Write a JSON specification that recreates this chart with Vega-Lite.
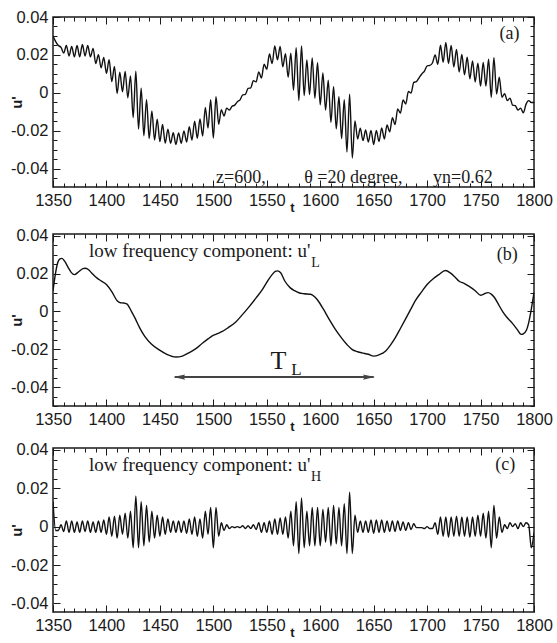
{
  "$schema": "https://vega.github.io/schema/vega-lite/v6.json",
  "padding": {"left": 8, "top": 8, "right": 4, "bottom": 5},
  "config": {
    "view": {"stroke": "#1a1a1a", "strokeWidth": 1.5},
    "axis": {"grid": false, "domain": false, "tickColor": "#1a1a1a", "tickWidth": 1, "labelFont": "Liberation Sans", "labelFontSize": 16.5, "labelColor": "#1a1a1a", "labelFlush": false, "labelOverlap": false, "labelBound": false, "titleFont": "Liberation Sans", "titleFontWeight": "bold", "titleColor": "#1a1a1a"},
    "text": {"font": "Liberation Serif", "fontSize": 18, "color": "#1a1a1a"}
  },
  "datasets": {
    "one": [{}],
    "a": [{"t":1350,"u":0.030},{"t":1352.5,"u":0.027},{"t":1355,"u":0.025},{"t":1357.5,"u":0.024},{"t":1360,"u":0.021},{"t":1362.5,"u":0.025},{"t":1365,"u":0.0195},{"t":1367.5,"u":0.0245},{"t":1370,"u":0.019},{"t":1372.5,"u":0.025},{"t":1375,"u":0.019},{"t":1377.5,"u":0.0255},{"t":1380,"u":0.0195},{"t":1382.5,"u":0.025},{"t":1385,"u":0.019},{"t":1387.5,"u":0.0235},{"t":1390,"u":0.0155},{"t":1392.5,"u":0.0202},{"t":1395,"u":0.0132},{"t":1397.5,"u":0.0187},{"t":1400,"u":0.0103},{"t":1402.5,"u":0.0175},{"t":1405,"u":0.006},{"t":1407.5,"u":0.014},{"t":1410,"u":-0.0003},{"t":1412.5,"u":0.011},{"t":1415,"u":0.0006},{"t":1417.5,"u":0.0113},{"t":1420,"u":-0.0025},{"t":1422.5,"u":0.009},{"t":1425,"u":-0.013},{"t":1427.5,"u":0.0115},{"t":1430,"u":-0.019},{"t":1432.5,"u":0.0025},{"t":1435,"u":-0.0225},{"t":1437.5,"u":-0.0035},{"t":1440,"u":-0.024},{"t":1442.5,"u":-0.0095},{"t":1445,"u":-0.0248},{"t":1447.5,"u":-0.0138},{"t":1450,"u":-0.0256},{"t":1452.5,"u":-0.0166},{"t":1455,"u":-0.0264},{"t":1457.5,"u":-0.0191},{"t":1460,"u":-0.0265},{"t":1462.5,"u":-0.0209},{"t":1465,"u":-0.0271},{"t":1467.5,"u":-0.021},{"t":1470,"u":-0.0265},{"t":1472.5,"u":-0.02},{"t":1475,"u":-0.0258},{"t":1477.5,"u":-0.0178},{"t":1480,"u":-0.0248},{"t":1482.5,"u":-0.0148},{"t":1485,"u":-0.0238},{"t":1487.5,"u":-0.0137},{"t":1490,"u":-0.0227},{"t":1492.5,"u":-0.0076},{"t":1495,"u":-0.0185},{"t":1497.5,"u":-0.0035},{"t":1500,"u":-0.0237},{"t":1502.5,"u":-0.002},{"t":1505,"u":-0.0165},{"t":1507.5,"u":-0.0088},{"t":1510,"u":-0.0121},{"t":1512.5,"u":-0.008},{"t":1515,"u":-0.009},{"t":1517.5,"u":-0.007},{"t":1520,"u":-0.0064},{"t":1522.5,"u":-0.0046},{"t":1525,"u":-0.0036},{"t":1527.5,"u":-0.001},{"t":1530,"u":-0.0007},{"t":1532.5,"u":0.0024},{"t":1535,"u":0.0027},{"t":1537.5,"u":0.0065},{"t":1540,"u":0.0058},{"t":1542.5,"u":0.0111},{"t":1545,"u":0.0079},{"t":1547.5,"u":0.0152},{"t":1550,"u":0.0125},{"t":1552.5,"u":0.0205},{"t":1555,"u":0.0155},{"t":1557.5,"u":0.0248},{"t":1560,"u":0.0175},{"t":1562.5,"u":0.0245},{"t":1565,"u":0.0138},{"t":1567.5,"u":0.0207},{"t":1570,"u":0.0083},{"t":1572.5,"u":0.0209},{"t":1575,"u":0.0015},{"t":1577.5,"u":0.0238},{"t":1580,"u":-0.004},{"t":1582.5,"u":0.0248},{"t":1585,"u":-0.0014},{"t":1587.5,"u":0.0174},{"t":1590,"u":-0.0008},{"t":1592.5,"u":0.0185},{"t":1595,"u":-0.0028},{"t":1597.5,"u":0.016},{"t":1600,"u":-0.0062},{"t":1602.5,"u":0.0105},{"t":1605,"u":-0.009},{"t":1607.5,"u":0.0067},{"t":1610,"u":-0.0155},{"t":1612.5,"u":0.0033},{"t":1615,"u":-0.0189},{"t":1617.5,"u":-0.002},{"t":1620,"u":-0.024},{"t":1622.5,"u":-0.0035},{"t":1625,"u":-0.0311},{"t":1627.5,"u":-0.0006},{"t":1630,"u":-0.0342},{"t":1632.5,"u":-0.0147},{"t":1635,"u":-0.0242},{"t":1637.5,"u":-0.0186},{"t":1640,"u":-0.0251},{"t":1642.5,"u":-0.0195},{"t":1645,"u":-0.0258},{"t":1647.5,"u":-0.0197},{"t":1650,"u":-0.0271},{"t":1652.5,"u":-0.0197},{"t":1655,"u":-0.0256},{"t":1657.5,"u":-0.0184},{"t":1660,"u":-0.0242},{"t":1662.5,"u":-0.0168},{"t":1665,"u":-0.0205},{"t":1667.5,"u":-0.013},{"t":1670,"u":-0.0166},{"t":1672.5,"u":-0.0084},{"t":1675,"u":-0.0106},{"t":1677.5,"u":-0.0037},{"t":1680,"u":-0.0058},{"t":1682.5,"u":0.0008},{"t":1685,"u":0.0},{"t":1687.5,"u":0.0056},{"t":1690,"u":0.006},{"t":1692.5,"u":0.008},{"t":1695,"u":0.01},{"t":1697.5,"u":0.0115},{"t":1700,"u":0.0143},{"t":1702.5,"u":0.0145},{"t":1705,"u":0.0158},{"t":1707.5,"u":0.02},{"t":1710,"u":0.0151},{"t":1712.5,"u":0.0252},{"t":1715,"u":0.0162},{"t":1717.5,"u":0.0266},{"t":1720,"u":0.0155},{"t":1722.5,"u":0.025},{"t":1725,"u":0.0137},{"t":1727.5,"u":0.0229},{"t":1730,"u":0.011},{"t":1732.5,"u":0.0203},{"t":1735,"u":0.0096},{"t":1737.5,"u":0.0188},{"t":1740,"u":0.0075},{"t":1742.5,"u":0.0169},{"t":1745,"u":0.0058},{"t":1747.5,"u":0.0157},{"t":1750,"u":0.0036},{"t":1752.5,"u":0.0161},{"t":1755,"u":0.0036},{"t":1757.5,"u":0.0178},{"t":1760,"u":-0.0023},{"t":1762.5,"u":0.0186},{"t":1765,"u":-0.0005},{"t":1767.5,"u":0.0083},{"t":1770,"u":-0.0023},{"t":1772.5,"u":-0.0004},{"t":1775,"u":-0.004},{"t":1777.5,"u":-0.0027},{"t":1780,"u":-0.0064},{"t":1782.5,"u":-0.0067},{"t":1785,"u":-0.009},{"t":1787.5,"u":-0.008},{"t":1790,"u":-0.0105},{"t":1792.5,"u":-0.006},{"t":1795,"u":-0.004},{"t":1797.5,"u":-0.005},{"t":1800,"u":-0.005}],
    "b": [{"t":1350,"u":0.0109},{"t":1352,"u":0.019},{"t":1354,"u":0.025},{"t":1356.5,"u":0.0278},{"t":1358.4,"u":0.0281},{"t":1361,"u":0.0265},{"t":1364,"u":0.0235},{"t":1367,"u":0.0207},{"t":1370,"u":0.0195},{"t":1374,"u":0.021},{"t":1378,"u":0.0227},{"t":1380,"u":0.0229},{"t":1383,"u":0.0222},{"t":1386,"u":0.0205},{"t":1390,"u":0.0182},{"t":1393,"u":0.0169},{"t":1400,"u":0.0143},{"t":1405,"u":0.0105},{"t":1410,"u":0.0057},{"t":1413,"u":0.0046},{"t":1416,"u":0.0045},{"t":1419,"u":0.004},{"t":1423,"u":0.0005},{"t":1427,"u":-0.0038},{"t":1431,"u":-0.0085},{"t":1436,"u":-0.0133},{"t":1442,"u":-0.0172},{"t":1449,"u":-0.0202},{"t":1457,"u":-0.0228},{"t":1465,"u":-0.0241},{"t":1471,"u":-0.0236},{"t":1477,"u":-0.0219},{"t":1484,"u":-0.0195},{"t":1490,"u":-0.0167},{"t":1495,"u":-0.0145},{"t":1499,"u":-0.0129},{"t":1504,"u":-0.0117},{"t":1508,"u":-0.0107},{"t":1514,"u":-0.0085},{"t":1521,"u":-0.0055},{"t":1527,"u":-0.0018},{"t":1533,"u":0.0022},{"t":1540,"u":0.0072},{"t":1546,"u":0.0117},{"t":1551,"u":0.0163},{"t":1555,"u":0.0195},{"t":1558,"u":0.0212},{"t":1560,"u":0.0215},{"t":1563,"u":0.0205},{"t":1567,"u":0.016},{"t":1572,"u":0.0125},{"t":1576,"u":0.011},{"t":1580,"u":0.0099},{"t":1585,"u":0.0094},{"t":1591,"u":0.0091},{"t":1595,"u":0.0077},{"t":1598,"u":0.0057},{"t":1603,"u":0.0012},{"t":1608,"u":-0.0038},{"t":1614,"u":-0.0093},{"t":1619,"u":-0.0133},{"t":1625,"u":-0.0175},{"t":1630,"u":-0.0202},{"t":1635,"u":-0.0213},{"t":1639,"u":-0.0219},{"t":1645,"u":-0.0226},{"t":1650,"u":-0.0236},{"t":1655,"u":-0.0229},{"t":1661,"u":-0.021},{"t":1666,"u":-0.0175},{"t":1670,"u":-0.0141},{"t":1675,"u":-0.009},{"t":1680,"u":-0.0038},{"t":1685,"u":0.0015},{"t":1689,"u":0.0057},{"t":1695,"u":0.0105},{"t":1700,"u":0.0143},{"t":1706,"u":0.0175},{"t":1711,"u":0.0195},{"t":1717,"u":0.0217},{"t":1722,"u":0.0203},{"t":1726,"u":0.0183},{"t":1730,"u":0.016},{"t":1735,"u":0.0148},{"t":1739,"u":0.0134},{"t":1745,"u":0.011},{"t":1750,"u":0.0086},{"t":1753,"u":0.0092},{"t":1757,"u":0.01},{"t":1760,"u":0.0092},{"t":1763,"u":0.0074},{"t":1767,"u":0.0035},{"t":1771,"u":-0.0003},{"t":1775,"u":-0.0033},{"t":1780,"u":-0.0064},{"t":1784,"u":-0.0093},{"t":1788,"u":-0.0121},{"t":1790,"u":-0.0118},{"t":1793,"u":-0.0098},{"t":1795,"u":-0.006},{"t":1797,"u":-0.0003},{"t":1800,"u":0.01}],
    "c": [{"t":1350,"u":0.013},{"t":1352.5,"u":-0.002},{"t":1355,"u":-0.002},{"t":1357.5,"u":0.001},{"t":1360,"u":-0.0025},{"t":1362.5,"u":0.003},{"t":1365,"u":-0.003},{"t":1367.5,"u":0.003},{"t":1370,"u":-0.003},{"t":1372.5,"u":0.0025},{"t":1375,"u":-0.003},{"t":1377.5,"u":0.003},{"t":1380,"u":-0.0025},{"t":1382.5,"u":0.003},{"t":1385,"u":-0.003},{"t":1387.5,"u":0.0025},{"t":1390,"u":-0.003},{"t":1392.5,"u":0.003},{"t":1395,"u":-0.003},{"t":1397.5,"u":0.0035},{"t":1400,"u":-0.004},{"t":1402.5,"u":0.005},{"t":1405,"u":-0.005},{"t":1407.5,"u":0.0055},{"t":1410,"u":-0.006},{"t":1412.5,"u":0.006},{"t":1415,"u":-0.004},{"t":1417.5,"u":0.007},{"t":1420,"u":-0.006},{"t":1422.5,"u":0.008},{"t":1425,"u":-0.011},{"t":1427.5,"u":0.016},{"t":1430,"u":-0.011},{"t":1432.5,"u":0.013},{"t":1435,"u":-0.01},{"t":1437.5,"u":0.011},{"t":1440,"u":-0.008},{"t":1442.5,"u":0.008},{"t":1445,"u":-0.006},{"t":1447.5,"u":0.006},{"t":1450,"u":-0.005},{"t":1452.5,"u":0.005},{"t":1455,"u":-0.004},{"t":1457.5,"u":0.004},{"t":1460,"u":-0.003},{"t":1462.5,"u":0.003},{"t":1465,"u":-0.003},{"t":1467.5,"u":0.003},{"t":1470,"u":-0.003},{"t":1472.5,"u":0.003},{"t":1475,"u":-0.0035},{"t":1477.5,"u":0.004},{"t":1480,"u":-0.004},{"t":1482.5,"u":0.005},{"t":1485,"u":-0.005},{"t":1487.5,"u":0.004},{"t":1490,"u":-0.006},{"t":1492.5,"u":0.008},{"t":1495,"u":-0.004},{"t":1497.5,"u":0.01},{"t":1500,"u":-0.011},{"t":1502.5,"u":0.01},{"t":1505,"u":-0.005},{"t":1507.5,"u":0.002},{"t":1510,"u":-0.002},{"t":1512.5,"u":0.001},{"t":1515,"u":-0.001},{"t":1517.5,"u":0.0},{"t":1520,"u":-0.0005},{"t":1522.5,"u":0.0},{"t":1525,"u":-0.0005},{"t":1527.5,"u":0.0005},{"t":1530,"u":-0.001},{"t":1532.5,"u":0.0005},{"t":1535,"u":-0.001},{"t":1537.5,"u":0.001},{"t":1540,"u":-0.0015},{"t":1542.5,"u":0.002},{"t":1545,"u":-0.003},{"t":1547.5,"u":0.002},{"t":1550,"u":-0.003},{"t":1552.5,"u":0.003},{"t":1555,"u":-0.004},{"t":1557.5,"u":0.004},{"t":1560,"u":-0.004},{"t":1562.5,"u":0.0045},{"t":1565,"u":-0.004},{"t":1567.5,"u":0.005},{"t":1570,"u":-0.006},{"t":1572.5,"u":0.008},{"t":1575,"u":-0.01},{"t":1577.5,"u":0.013},{"t":1580,"u":-0.014},{"t":1582.5,"u":0.015},{"t":1585,"u":-0.011},{"t":1587.5,"u":0.008},{"t":1590,"u":-0.01},{"t":1592.5,"u":0.01},{"t":1595,"u":-0.01},{"t":1597.5,"u":0.01},{"t":1600,"u":-0.01},{"t":1602.5,"u":0.009},{"t":1605,"u":-0.008},{"t":1607.5,"u":0.01},{"t":1610,"u":-0.01},{"t":1612.5,"u":0.011},{"t":1615,"u":-0.009},{"t":1617.5,"u":0.01},{"t":1620,"u":-0.01},{"t":1622.5,"u":0.012},{"t":1625,"u":-0.014},{"t":1627.5,"u":0.018},{"t":1630,"u":-0.014},{"t":1632.5,"u":0.006},{"t":1635,"u":-0.003},{"t":1637.5,"u":0.003},{"t":1640,"u":-0.003},{"t":1642.5,"u":0.003},{"t":1645,"u":-0.003},{"t":1647.5,"u":0.0035},{"t":1650,"u":-0.0035},{"t":1652.5,"u":0.0035},{"t":1655,"u":-0.003},{"t":1657.5,"u":0.0035},{"t":1660,"u":-0.003},{"t":1662.5,"u":0.003},{"t":1665,"u":-0.0025},{"t":1667.5,"u":0.003},{"t":1670,"u":-0.0025},{"t":1672.5,"u":0.003},{"t":1675,"u":-0.002},{"t":1677.5,"u":0.0025},{"t":1680,"u":-0.002},{"t":1682.5,"u":0.002},{"t":1685,"u":-0.0015},{"t":1687.5,"u":0.0015},{"t":1690,"u":-0.0005},{"t":1692.5,"u":-0.0005},{"t":1695,"u":-0.0005},{"t":1697.5,"u":-0.001},{"t":1700,"u":0.0},{"t":1702.5,"u":-0.001},{"t":1705,"u":-0.001},{"t":1707.5,"u":0.002},{"t":1710,"u":-0.004},{"t":1712.5,"u":0.005},{"t":1715,"u":-0.005},{"t":1717.5,"u":0.005},{"t":1720,"u":-0.0055},{"t":1722.5,"u":0.005},{"t":1725,"u":-0.005},{"t":1727.5,"u":0.0055},{"t":1730,"u":-0.005},{"t":1732.5,"u":0.005},{"t":1735,"u":-0.005},{"t":1737.5,"u":0.005},{"t":1740,"u":-0.0055},{"t":1742.5,"u":0.005},{"t":1745,"u":-0.005},{"t":1747.5,"u":0.006},{"t":1750,"u":-0.005},{"t":1752.5,"u":0.007},{"t":1755,"u":-0.006},{"t":1757.5,"u":0.008},{"t":1760,"u":-0.011},{"t":1762.5,"u":0.011},{"t":1765,"u":-0.006},{"t":1767.5,"u":0.005},{"t":1770,"u":-0.003},{"t":1772.5,"u":0.001},{"t":1775,"u":-0.001},{"t":1777.5,"u":0.002},{"t":1780,"u":0.0},{"t":1782.5,"u":0.0015},{"t":1785,"u":-0.001},{"t":1787.5,"u":0.002},{"t":1790,"u":0.0},{"t":1792.5,"u":0.002},{"t":1795,"u":0.001},{"t":1797.5,"u":-0.011},{"t":1800,"u":-0.003}]
  },
  "bounds": "flush",
  "spacing": 47,
  "vconcat": [
    {
      "width": 481, "height": 170,
      "resolve": {"axis": {"x": "independent", "y": "independent"}},
      "layer": [
        {
          "data": {"name": "a"},
          "mark": {"type": "line", "color": "#111", "strokeWidth": 1.4, "interpolate": "monotone", "clip": true},
          "encoding": {
            "x": {"field": "t", "type": "quantitative", "scale": {"domain": [1350, 1800], "nice": false, "zero": false},
              "axis": {"orient": "bottom", "values": [1350,1360,1370,1380,1390,1400,1410,1420,1430,1440,1450,1460,1470,1480,1490,1500,1510,1520,1530,1540,1550,1560,1570,1580,1590,1600,1610,1620,1630,1640,1650,1660,1670,1680,1690,1700,1710,1720,1730,1740,1750,1760,1770,1780,1790,1800],
                "labelExpr": "datum.value % 50 === 0 ? '' + datum.value : ''",
                "tickSize": {"condition": {"test": "datum.value % 50 === 0", "value": -7}, "value": -4},
                "labelPadding": 12, "title": "t", "titleX": 239, "titleY": 20, "titleFontSize": 13, "titleBaseline": "middle", "titleAlign": "center"}},
            "y": {"field": "u", "type": "quantitative", "scale": {"domain": [-0.0495, 0.04], "nice": false, "zero": false},
              "axis": {"orient": "left", "values": [-0.045,-0.04,-0.035,-0.03,-0.025,-0.02,-0.015,-0.01,-0.005,0,0.005,0.01,0.015,0.02,0.025,0.03,0.035,0.04],
                "labelExpr": "abs(round(datum.value*1000)) % 20 === 0 ? (datum.value < -0.0001 ? '-' : '') + (abs(datum.value) < 0.0001 ? '0' : format(abs(datum.value), '.2f')) : ''",
                "tickSize": {"condition": {"test": "abs(round(datum.value*1000)) % 20 === 0", "value": -7}, "value": -4},
                "labelPadding": 12, "title": "u'", "titleX": -37, "titleY": 85, "titleFontSize": 15, "titleBaseline": "middle", "titleAlign": "center"}}
          }
        },
        {
          "data": {"name": "a"},
          "mark": {"type": "line", "opacity": 0},
          "encoding": {
            "x": {"field": "t", "type": "quantitative", "scale": {"domain": [1350, 1800], "nice": false, "zero": false},
              "axis": {"orient": "top", "values": [1350,1360,1370,1380,1390,1400,1410,1420,1430,1440,1450,1460,1470,1480,1490,1500,1510,1520,1530,1540,1550,1560,1570,1580,1590,1600,1610,1620,1630,1640,1650,1660,1670,1680,1690,1700,1710,1720,1730,1740,1750,1760,1770,1780,1790,1800],
                "labels": false, "title": null,
                "tickSize": {"condition": {"test": "datum.value % 50 === 0", "value": -7}, "value": -4}}},
            "y": {"field": "u", "type": "quantitative", "scale": {"domain": [-0.0495, 0.04], "nice": false, "zero": false},
              "axis": {"orient": "right", "values": [-0.045,-0.04,-0.035,-0.03,-0.025,-0.02,-0.015,-0.01,-0.005,0,0.005,0.01,0.015,0.02,0.025,0.03,0.035,0.04],
                "labels": false, "title": null,
                "tickSize": {"condition": {"test": "abs(round(datum.value*1000)) % 20 === 0", "value": -7}, "value": -4}}}
          }
        },
        {"data": {"name": "one"}, "mark": {"type": "text", "text": "(a)", "align": "center", "baseline": "middle"},
         "encoding": {"x": {"datum": 1777, "type": "quantitative", "axis": null}, "y": {"datum": 0.031, "type": "quantitative", "axis": null}}},
        {"data": {"name": "one"}, "mark": {"type": "text", "text": "z=600,", "align": "left", "baseline": "middle"},
         "encoding": {"x": {"datum": 1502.5, "type": "quantitative", "axis": null}, "y": {"datum": -0.0447, "type": "quantitative", "axis": null}}},
        {"data": {"name": "one"}, "mark": {"type": "text", "text": "θ =20 degree,", "align": "left", "baseline": "middle"},
         "encoding": {"x": {"datum": 1585, "type": "quantitative", "axis": null}, "y": {"datum": -0.0447, "type": "quantitative", "axis": null}}},
        {"data": {"name": "one"}, "mark": {"type": "text", "text": "yn=0.62", "align": "left", "baseline": "middle"},
         "encoding": {"x": {"datum": 1705.5, "type": "quantitative", "axis": null}, "y": {"datum": -0.0447, "type": "quantitative", "axis": null}}}
      ]
    },
    {
      "bounds": "flush",
      "spacing": 42,
      "vconcat": [
        {
          "width": 481, "height": 172,
          "resolve": {"axis": {"x": "independent", "y": "independent"}},
          "layer": [
            {
              "data": {"name": "b"},
              "mark": {"type": "line", "color": "#111", "strokeWidth": 1.4, "interpolate": "monotone", "clip": true},
              "encoding": {
                "x": {"field": "t", "type": "quantitative", "scale": {"domain": [1350, 1800], "nice": false, "zero": false},
                  "axis": {"orient": "bottom", "values": [1350,1360,1370,1380,1390,1400,1410,1420,1430,1440,1450,1460,1470,1480,1490,1500,1510,1520,1530,1540,1550,1560,1570,1580,1590,1600,1610,1620,1630,1640,1650,1660,1670,1680,1690,1700,1710,1720,1730,1740,1750,1760,1770,1780,1790,1800],
                    "labelExpr": "datum.value % 50 === 0 ? '' + datum.value : ''",
                    "tickSize": {"condition": {"test": "datum.value % 50 === 0", "value": -7}, "value": -4},
                    "labelPadding": 12, "title": "t", "titleX": 239, "titleY": 20, "titleFontSize": 13, "titleBaseline": "middle", "titleAlign": "center"}},
                "y": {"field": "u", "type": "quantitative", "scale": {"domain": [-0.05, 0.041], "nice": false, "zero": false},
                  "axis": {"orient": "left", "values": [-0.05,-0.045,-0.04,-0.035,-0.03,-0.025,-0.02,-0.015,-0.01,-0.005,0,0.005,0.01,0.015,0.02,0.025,0.03,0.035,0.04],
                    "labelExpr": "abs(round(datum.value*1000)) % 20 === 0 ? (datum.value < -0.0001 ? '-' : '') + (abs(datum.value) < 0.0001 ? '0' : format(abs(datum.value), '.2f')) : ''",
                    "tickSize": {"condition": {"test": "abs(round(datum.value*1000)) % 20 === 0", "value": -7}, "value": -4},
                    "labelPadding": 12, "title": "u'", "titleX": -37, "titleY": 86, "titleFontSize": 15, "titleBaseline": "middle", "titleAlign": "center"}}
              }
            },
            {
              "data": {"name": "b"},
              "mark": {"type": "line", "opacity": 0},
              "encoding": {
                "x": {"field": "t", "type": "quantitative", "scale": {"domain": [1350, 1800], "nice": false, "zero": false},
                  "axis": {"orient": "top", "values": [1350,1360,1370,1380,1390,1400,1410,1420,1430,1440,1450,1460,1470,1480,1490,1500,1510,1520,1530,1540,1550,1560,1570,1580,1590,1600,1610,1620,1630,1640,1650,1660,1670,1680,1690,1700,1710,1720,1730,1740,1750,1760,1770,1780,1790,1800],
                    "labels": false, "title": null,
                    "tickSize": {"condition": {"test": "datum.value % 50 === 0", "value": -7}, "value": -4}}},
                "y": {"field": "u", "type": "quantitative", "scale": {"domain": [-0.05, 0.041], "nice": false, "zero": false},
                  "axis": {"orient": "right", "values": [-0.05,-0.045,-0.04,-0.035,-0.03,-0.025,-0.02,-0.015,-0.01,-0.005,0,0.005,0.01,0.015,0.02,0.025,0.03,0.035,0.04],
                    "labels": false, "title": null,
                    "tickSize": {"condition": {"test": "abs(round(datum.value*1000)) % 20 === 0", "value": -7}, "value": -4}}}
              }
            },
            {"data": {"name": "one"}, "mark": {"type": "text", "text": "low frequency component: u'", "align": "left", "baseline": "middle", "fontSize": 19},
             "encoding": {"x": {"datum": 1383.7, "type": "quantitative", "axis": null}, "y": {"datum": 0.032, "type": "quantitative", "axis": null}}},
            {"data": {"name": "one"}, "mark": {"type": "text", "text": "L", "align": "center", "baseline": "middle", "fontSize": 14},
             "encoding": {"x": {"datum": 1595.6, "type": "quantitative", "axis": null}, "y": {"datum": 0.0258, "type": "quantitative", "axis": null}}},
            {"data": {"name": "one"}, "mark": {"type": "text", "text": "(b)", "align": "center", "baseline": "middle"},
             "encoding": {"x": {"datum": 1775, "type": "quantitative", "axis": null}, "y": {"datum": 0.03, "type": "quantitative", "axis": null}}},
            {"data": {"name": "one"}, "mark": {"type": "rule", "color": "#444", "strokeWidth": 2},
             "encoding": {"x": {"datum": 1464, "type": "quantitative", "axis": null}, "x2": {"datum": 1650}, "y": {"datum": -0.0347, "type": "quantitative", "axis": null}}},
            {"data": {"name": "one"}, "mark": {"type": "point", "shape": "M0,0L2,-0.45L1.7,0L2,0.45Z", "filled": true, "size": 144, "color": "#444", "opacity": 1},
             "encoding": {"x": {"datum": 1462.5, "type": "quantitative", "axis": null}, "y": {"datum": -0.0347, "type": "quantitative", "axis": null}}},
            {"data": {"name": "one"}, "mark": {"type": "point", "shape": "M0,0L-2,-0.45L-1.7,0L-2,0.45Z", "filled": true, "size": 144, "color": "#444", "opacity": 1},
             "encoding": {"x": {"datum": 1651.2, "type": "quantitative", "axis": null}, "y": {"datum": -0.0347, "type": "quantitative", "axis": null}}},
            {"data": {"name": "one"}, "mark": {"type": "text", "text": "T", "align": "center", "baseline": "middle", "fontSize": 26},
             "encoding": {"x": {"datum": 1561, "type": "quantitative", "axis": null}, "y": {"datum": -0.026, "type": "quantitative", "axis": null}}},
            {"data": {"name": "one"}, "mark": {"type": "text", "text": "L", "align": "center", "baseline": "middle", "fontSize": 17},
             "encoding": {"x": {"datum": 1577.8, "type": "quantitative", "axis": null}, "y": {"datum": -0.0312, "type": "quantitative", "axis": null}}}
          ]
        },
        {
          "width": 481, "height": 164,
          "resolve": {"axis": {"x": "independent", "y": "independent"}},
          "layer": [
            {
              "data": {"name": "c"},
              "mark": {"type": "line", "color": "#111", "strokeWidth": 1.4, "interpolate": "monotone", "clip": true},
              "encoding": {
                "x": {"field": "t", "type": "quantitative", "scale": {"domain": [1350, 1800], "nice": false, "zero": false},
                  "axis": {"orient": "bottom", "values": [1350,1360,1370,1380,1390,1400,1410,1420,1430,1440,1450,1460,1470,1480,1490,1500,1510,1520,1530,1540,1550,1560,1570,1580,1590,1600,1610,1620,1630,1640,1650,1660,1670,1680,1690,1700,1710,1720,1730,1740,1750,1760,1770,1780,1790,1800],
                    "labelExpr": "datum.value % 50 === 0 ? '' + datum.value : ''",
                    "tickSize": {"condition": {"test": "datum.value % 50 === 0", "value": -7}, "value": -4},
                    "labelPadding": 12, "title": "t", "titleX": 239, "titleY": 20, "titleFontSize": 13, "titleBaseline": "middle", "titleAlign": "center"}},
                "y": {"field": "u", "type": "quantitative", "scale": {"domain": [-0.0445, 0.041], "nice": false, "zero": false},
                  "axis": {"orient": "left", "values": [-0.04,-0.035,-0.03,-0.025,-0.02,-0.015,-0.01,-0.005,0,0.005,0.01,0.015,0.02,0.025,0.03,0.035,0.04],
                    "labelExpr": "abs(round(datum.value*1000)) % 20 === 0 ? (datum.value < -0.0001 ? '-' : '') + (abs(datum.value) < 0.0001 ? '0' : format(abs(datum.value), '.2f')) : ''",
                    "tickSize": {"condition": {"test": "abs(round(datum.value*1000)) % 20 === 0", "value": -7}, "value": -4},
                    "labelPadding": 12, "title": "u'", "titleX": -37, "titleY": 82, "titleFontSize": 15, "titleBaseline": "middle", "titleAlign": "center"}}
              }
            },
            {
              "data": {"name": "c"},
              "mark": {"type": "line", "opacity": 0},
              "encoding": {
                "x": {"field": "t", "type": "quantitative", "scale": {"domain": [1350, 1800], "nice": false, "zero": false},
                  "axis": {"orient": "top", "values": [1350,1360,1370,1380,1390,1400,1410,1420,1430,1440,1450,1460,1470,1480,1490,1500,1510,1520,1530,1540,1550,1560,1570,1580,1590,1600,1610,1620,1630,1640,1650,1660,1670,1680,1690,1700,1710,1720,1730,1740,1750,1760,1770,1780,1790,1800],
                    "labels": false, "title": null,
                    "tickSize": {"condition": {"test": "datum.value % 50 === 0", "value": -7}, "value": -4}}},
                "y": {"field": "u", "type": "quantitative", "scale": {"domain": [-0.0445, 0.041], "nice": false, "zero": false},
                  "axis": {"orient": "right", "values": [-0.04,-0.035,-0.03,-0.025,-0.02,-0.015,-0.01,-0.005,0,0.005,0.01,0.015,0.02,0.025,0.03,0.035,0.04],
                    "labels": false, "title": null,
                    "tickSize": {"condition": {"test": "abs(round(datum.value*1000)) % 20 === 0", "value": -7}, "value": -4}}}
              }
            },
            {"data": {"name": "one"}, "mark": {"type": "text", "text": "low frequency component: u'", "align": "left", "baseline": "middle", "fontSize": 19},
             "encoding": {"x": {"datum": 1383.7, "type": "quantitative", "axis": null}, "y": {"datum": 0.032, "type": "quantitative", "axis": null}}},
            {"data": {"name": "one"}, "mark": {"type": "text", "text": "H", "align": "center", "baseline": "middle", "fontSize": 14},
             "encoding": {"x": {"datum": 1596, "type": "quantitative", "axis": null}, "y": {"datum": 0.0258, "type": "quantitative", "axis": null}}},
            {"data": {"name": "one"}, "mark": {"type": "text", "text": "(c)", "align": "center", "baseline": "middle"},
             "encoding": {"x": {"datum": 1773, "type": "quantitative", "axis": null}, "y": {"datum": 0.032, "type": "quantitative", "axis": null}}}
          ]
        }
      ]
    }
  ]
}
